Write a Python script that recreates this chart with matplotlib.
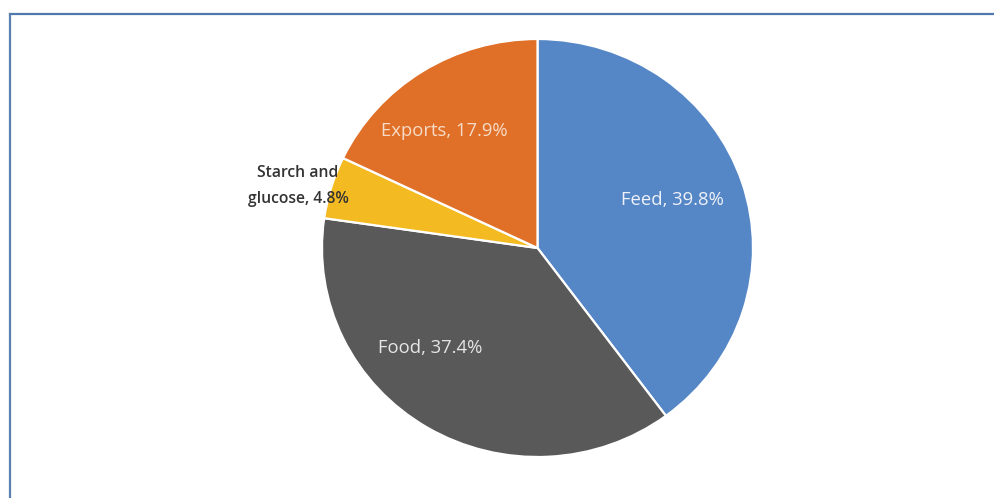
import matplotlib.pyplot as plt
from matplotlib.lines import Line2D

labels = ['Feed', 'Food', 'Starch and\nglucose', 'Exports']
shares = [39.8, 37.4, 4.8, 17.9]
colors = ['#5586c6', '#595959', '#f3ba22', '#e06f27']

# label anchor points in pie data units (radius = 1)
label_xy = [(0.624, 0.23), (-0.50, -0.478), (-1.111, 0.297), (-0.434, 0.56)]
label_colors = ['#eef2f8', '#e6e6e6', '#333333', '#f6dcc8']

plt.rcParams['font.family'] = ['Open Sans', 'DejaVu Sans']

fig = plt.figure(figsize=(9.94, 4.98), dpi=100)
ax = fig.add_axes([322 / 994, 41 / 498, 431 / 994, 418 / 498])

ax.pie(shares, colors=colors, startangle=90, counterclock=False,
       radius=1.0, wedgeprops=dict(edgecolor='white', linewidth=1.6))
ax.set_xlim(-1, 1)
ax.set_ylim(-1, 1)
ax.set_aspect('auto')
ax.axis('off')

for lab, val, (x, y), c in zip(labels, shares, label_xy, label_colors):
    outside = c == '#333333'
    ax.text(x, y, f'{lab}, {val}%', ha='center', va='center', color=c,
            fontsize=11.3 if outside else 13.3,
            fontweight='semibold' if outside else 'normal',
            clip_on=False, linespacing=1.9)

# frame around the chart: top and left edges only
fig.add_artist(Line2D([10 / 994, 1], [1 - 14 / 498, 1 - 14 / 498],
                      transform=fig.transFigure, color='#4f78ac', lw=1.6))
fig.add_artist(Line2D([10 / 994, 10 / 994], [0, 1 - 14 / 498],
                      transform=fig.transFigure, color='#5a80b0', lw=1.6))

fig.savefig('out.png', dpi=100)
